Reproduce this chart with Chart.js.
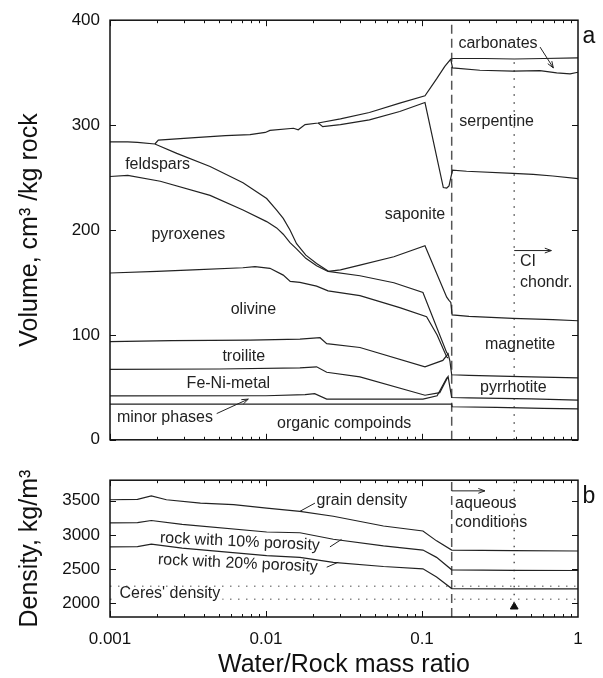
<!DOCTYPE html>
<html>
<head>
<meta charset="utf-8">
<script src="https://cdn.jsdelivr.net/npm/chart.js@4.4.0/dist/chart.umd.min.js"></script>
<style>
  html, body { margin: 0; padding: 0; background: #fff; }
  #wrap { position: relative; width: 603px; height: 678px; }
  #volume { position: absolute; left: 0; top: 0; }
  #density { position: absolute; left: 0; top: 460px; }
</style>
</head>
<body>
<div id="wrap">
  <canvas id="volume" width="603" height="460"></canvas>
  <canvas id="density" width="603" height="218"></canvas>
</div>
<script>
// ---- panel a: volume boundaries, cm3 per kg rock vs water/rock mass ratio ----
const totalX = [0.00194, 0.00204, 0.0035, 0.0055, 0.0079, 0.0099, 0.0106, 0.0150, 0.0161, 0.0178, 0.0216, 0.030, 0.046, 0.072, 0.1045, 0.124, 0.140, 0.153, 0.158, 0.25, 0.39, 0.6, 1.0];
const totalY = [282, 285.7, 288, 290, 291, 293, 295, 297, 295.5, 300.5, 302, 306, 312, 321, 328, 344, 356, 363, 363.5, 363.5, 363, 363.5, 364];

const carbonateX = [0.153, 0.157, 0.235, 0.383, 0.57, 0.73, 0.89, 1.0];
const carbonateY = [362.5, 354.5, 352.3, 351.4, 352, 349.7, 348.8, 350.4];

const splitX = [0.0216, 0.0231, 0.030, 0.046, 0.072, 0.1045, 0.137, 0.144, 0.149, 0.153, 0.157, 0.193, 0.383, 0.516, 0.69, 1.0];
const splitY = [302, 298.5, 300.5, 305, 313, 321.5, 240.5, 240, 242, 250, 257, 256, 254, 253, 251.5, 249];

const feldsparX = [0.001, 0.0013, 0.0015, 0.00194, 0.00268, 0.00438, 0.00712, 0.0101, 0.0117, 0.0129, 0.01425, 0.0157, 0.018, 0.0211, 0.025];
const feldsparY = [284, 284, 283.6, 282, 273, 260.5, 245, 230, 219, 211, 200, 187, 176, 168, 161];

const pyroxeneX = [0.001, 0.0013, 0.0021, 0.00438, 0.00712, 0.0101, 0.0117, 0.0129, 0.01425, 0.0157, 0.018, 0.0211, 0.025];
const pyroxeneY = [251, 252, 246.5, 233, 219, 208, 202, 196, 188, 182, 173, 166, 160.5];

const saponiteX = [0.025, 0.030, 0.040, 0.066, 0.1045, 0.144, 0.149, 0.153, 0.156, 0.20, 0.383, 0.69, 1.0];
const saponiteY = [160.5, 162, 166.5, 174.5, 185, 136, 133, 131, 119, 117.6, 115.8, 114.5, 113.5];

const innerX = [0.025, 0.040, 0.066, 0.1014, 0.144, 0.147];
const innerY = [160.5, 156.4, 149.7, 140.4, 83, 82];

const olivineX = [0.001, 0.002, 0.0034, 0.0071, 0.0085, 0.0106, 0.0129, 0.0143, 0.0165, 0.0211, 0.025, 0.040, 0.072, 0.107, 0.125, 0.144, 0.147];
const olivineY = [159, 160.5, 162, 164, 165, 163.5, 157, 151, 150, 146.5, 142, 137.4, 126, 117.3, 100, 79, 78];

const troiliteX = [0.001, 0.0025, 0.0079, 0.0165, 0.0222, 0.0245, 0.040, 0.1045, 0.136, 0.147, 0.151, 0.155, 0.20, 0.50, 1.0];
const troiliteY = [93.6, 94.5, 95, 96, 97.3, 91.7, 88, 69.6, 75.7, 82, 75, 62, 61.5, 60, 59];

const metalX = [0.001, 0.005, 0.0165, 0.0211, 0.0245, 0.040, 0.1045, 0.130, 0.147, 0.151, 0.155, 0.20, 0.50, 1.0];
const metalY = [67.1, 67.5, 68.5, 69.6, 64.4, 60, 42.5, 45, 60.3, 50, 40.3, 40, 39, 37.9];

const minorX = [0.001, 0.010, 0.0178, 0.0205, 0.0245, 0.1014, 0.125, 0.144, 0.147];
const minorY = [41.9, 42, 43, 44, 38.8, 38.8, 41.9, 58.8, 60];

const organicX = [0.001, 0.155, 0.156, 0.30, 0.60, 1.0];
const organicY = [34, 34, 31.5, 31, 30, 29.5];

// ---- panel b: densities, kg/m3 ----
const grainX = [0.001, 0.0015, 0.00184, 0.0023, 0.0038, 0.0062, 0.0101, 0.0165, 0.027, 0.0566, 0.1014, 0.124, 0.155, 0.383, 1.0];
const grainY = [3514, 3520, 3570, 3514, 3465, 3442, 3393, 3345, 3273, 3130, 3058, 2913, 2779, 2770, 2765];

const porousX = [0.001, 0.0015, 0.00184, 0.0029, 0.0101, 0.0165, 0.027, 0.0566, 0.1014, 0.124, 0.155, 0.383, 1.0];
const porous10Y = [3177, 3180, 3211, 3154, 3043, 3032, 2937, 2841, 2779, 2672, 2490, 2483, 2480];
const porous20Y = [2826, 2830, 2865, 2808, 2697, 2672, 2600, 2538, 2505, 2384, 2216, 2212, 2210];

const ceresDensity = [2060, 2250];
const aqueousStart = 0.155;   // dashed line
const ciChondrite = 0.39;     // dotted line
const ciMarkerY = 1950;

const volumeTicks = [0, 100, 200, 300, 400];
const densityTicks = [2000, 2500, 3000, 3500];
const ratioTicks = [0.001, 0.01, 0.1, 1];

const FONT = '"Liberation Sans", Arial, Helvetica, sans-serif';
Chart.defaults.font.family = FONT;
Chart.defaults.color = '#111';

function curve(xs, ys, extra) {
  return Object.assign({
    data: xs.map((x, i) => ({ x: x, y: ys[i] })),
    showLine: true,
    borderColor: '#222',
    borderWidth: 1.2,
    pointRadius: 0,
    tension: 0,
    fill: false
  }, extra || {});
}

// box frame with inward ticks on all four sides
const frameTicks = {
  id: 'frameTicks',
  afterDatasetsDraw(chart, args, opts) {
    const { ctx, chartArea: a, scales: { x, y } } = chart;
    ctx.save();
    ctx.strokeStyle = '#111';
    ctx.lineWidth = 1.5;
    ctx.strokeRect(a.left, a.top, a.right - a.left, a.bottom - a.top);
    ctx.lineWidth = 1;
    ctx.beginPath();
    for (let d = -3; d < 0; d++) {
      for (let m = 1; m <= 9; m++) {
        const px = Math.round(x.getPixelForValue(m * Math.pow(10, d))) + 0.5;
        const len = m === 1 ? 6 : 3;
        ctx.moveTo(px, a.bottom); ctx.lineTo(px, a.bottom - len);
        ctx.moveTo(px, a.top); ctx.lineTo(px, a.top + len);
      }
    }
    opts.yTicks.forEach(v => {
      const py = Math.round(y.getPixelForValue(v)) + 0.5;
      ctx.moveTo(a.left, py); ctx.lineTo(a.left + 6, py);
      ctx.moveTo(a.right, py); ctx.lineTo(a.right - 6, py);
    });
    ctx.stroke();
    ctx.restore();
  }
};

// text labels, leader lines and arrows placed in data units
const notes = {
  id: 'notes',
  afterDraw(chart, args, opts) {
    const { ctx, chartArea: a, scales: { x, y } } = chart;
    ctx.save();
    ctx.strokeStyle = '#222';
    ctx.fillStyle = '#222';
    ctx.lineWidth = 1;
    (opts.arrows || []).forEach(ar => {
      const x0 = x.getPixelForValue(ar.from[0]), y0 = y.getPixelForValue(ar.from[1]);
      const x1 = x.getPixelForValue(ar.to[0]), y1 = y.getPixelForValue(ar.to[1]);
      ctx.beginPath();
      ctx.moveTo(x0, y0); ctx.lineTo(x1, y1);
      if (ar.head) {
        const ang = Math.atan2(y1 - y0, x1 - x0), h = 7;
        ctx.moveTo(x1 - h * Math.cos(ang - 0.35), y1 - h * Math.sin(ang - 0.35));
        ctx.lineTo(x1, y1);
        ctx.lineTo(x1 - h * Math.cos(ang + 0.35), y1 - h * Math.sin(ang + 0.35));
      }
      ctx.stroke();
    });
    ctx.font = '16px ' + FONT;
    (opts.labels || []).forEach(l => {
      const px = x.getPixelForValue(l.x), py = y.getPixelForValue(l.y);
      ctx.save();
      ctx.translate(px, py);
      if (l.rot) ctx.rotate(l.rot * Math.PI / 180);
      ctx.textAlign = l.align || 'center';
      ctx.textBaseline = 'middle';
      if (l.bg) {
        const w = ctx.measureText(l.text).width;
        ctx.fillStyle = '#fff';
        ctx.fillRect(-w / 2 - 2, -4.5, w + 4, 13);
        ctx.fillStyle = '#222';
      }
      ctx.fillText(l.text, 0, 0);
      ctx.restore();
    });
    if (opts.panel) {
      ctx.font = '23px ' + FONT;
      ctx.textAlign = 'center';
      ctx.textBaseline = 'middle';
      ctx.fillStyle = '#111';
      ctx.fillText(opts.panel, a.right + 11, a.top + 16);
    }
    ctx.restore();
  }
};

const logX = (display) => ({
  type: 'logarithmic',
  min: 0.001,
  max: 1,
  display: display,
  grid: { display: false, drawTicks: false, tickLength: 0 },
  border: { display: false },
  afterBuildTicks: s => { s.ticks = ratioTicks.map(v => ({ value: v })); },
  ticks: { autoSkip: false, maxRotation: 0, padding: 12, font: { size: 17 }, callback: v => String(v) }
});

const volumeSets = [
  curve(totalX, totalY),
  curve(carbonateX, carbonateY),
  curve(splitX, splitY),
  curve(feldsparX, feldsparY),
  curve(pyroxeneX, pyroxeneY),
  curve(saponiteX, saponiteY),
  curve(innerX, innerY),
  curve(olivineX, olivineY),
  curve(troiliteX, troiliteY),
  curve(metalX, metalY),
  curve(minorX, minorY),
  curve(organicX, organicY),
  curve([aqueousStart, aqueousStart], [0, 400], { borderDash: [9, 5], borderColor: '#555', borderWidth: 1.5 }),
  curve([ciChondrite, ciChondrite], [0, 360], { borderDash: [1.5, 6.5], borderColor: '#555', borderWidth: 1.5 })
];

new Chart(document.getElementById('volume'), {
  type: 'scatter',
  data: { datasets: volumeSets },
  options: {
    responsive: false,
    animation: false,
    layout: { padding: { top: 19, right: 25, bottom: 8, left: 0 } },
    plugins: {
      legend: { display: false },
      tooltip: { enabled: false },
      frameTicks: { yTicks: volumeTicks },
      notes: {
        panel: 'a',
        labels: [
          { text: 'feldspars', x: 0.00202, y: 262 },
          { text: 'pyroxenes', x: 0.00318, y: 196 },
          { text: 'olivine', x: 0.0083, y: 124.5 },
          { text: 'troilite', x: 0.0072, y: 79.5 },
          { text: 'Fe-Ni-metal', x: 0.00574, y: 53.5 },
          { text: 'minor phases', x: 0.00225, y: 21 },
          { text: 'organic compoinds', x: 0.0317, y: 15.7 },
          { text: 'saponite', x: 0.0902, y: 215 },
          { text: 'serpentine', x: 0.301, y: 303.6 },
          { text: 'carbonates', x: 0.307, y: 377.5 },
          { text: 'magnetite', x: 0.425, y: 90.5 },
          { text: 'pyrrhotite', x: 0.385, y: 49.6 },
          { text: 'CI', x: 0.425, y: 169.7, align: 'left' },
          { text: 'chondr.', x: 0.425, y: 150.3, align: 'left' }
        ],
        arrows: [
          { from: [0.00483, 25], to: [0.0077, 38.8], head: true },
          { from: [0.571, 374.4], to: [0.695, 354.5], head: true },
          { from: [0.39, 180.4], to: [0.675, 180.4], head: true }
        ]
      }
    },
    scales: {
      x: logX(false),
      y: {
        min: 0,
        max: 400,
        grid: { display: false, drawTicks: false, tickLength: 0 },
        border: { display: false },
        afterBuildTicks: s => { s.ticks = volumeTicks.map(v => ({ value: v })); },
        afterFit: s => { s.width = 110; },
        ticks: { padding: 10, font: { size: 17 }, callback: v => String(v) },
        title: { display: true, text: 'Volume, cm\u00B3 /kg rock', font: { size: 25, lineHeight: 1 }, padding: { top: 18, bottom: 0 } }
      }
    }
  },
  plugins: [frameTicks, notes]
});

const densitySets = [
  curve(grainX, grainY),
  curve(porousX, porous10Y),
  curve(porousX, porous20Y),
  curve([0.001, 1], [ceresDensity[0], ceresDensity[0]], { borderDash: [1.5, 6.5], borderColor: '#888', borderWidth: 1.5 }),
  curve([0.001, 1], [ceresDensity[1], ceresDensity[1]], { borderDash: [1.5, 6.5], borderColor: '#888', borderWidth: 1.5 }),
  curve([aqueousStart, aqueousStart], [1800, 3800], { borderDash: [9, 5], borderColor: '#555', borderWidth: 1.5 }),
  curve([ciChondrite, ciChondrite], [2000, 3800], { borderDash: [1.5, 6.5], borderColor: '#555', borderWidth: 1.5 }),
  { data: [{ x: ciChondrite, y: ciMarkerY }], showLine: false, pointStyle: 'triangle', pointRadius: 4.5, backgroundColor: '#111', borderColor: '#111', borderWidth: 1 }
];

new Chart(document.getElementById('density'), {
  type: 'scatter',
  data: { datasets: densitySets },
  options: {
    responsive: false,
    animation: false,
    layout: { padding: { top: 18, right: 25, bottom: 0, left: 0 } },
    plugins: {
      legend: { display: false },
      tooltip: { enabled: false },
      frameTicks: { yTicks: densityTicks },
      notes: {
        panel: 'b',
        labels: [
          { text: 'grain density', x: 0.0412, y: 3500 },
          { text: 'rock with 10% porosity', x: 0.0068, y: 2898, rot: 2.7 },
          { text: 'rock with 20% porosity', x: 0.0066, y: 2581, rot: 2.7 },
          { text: "Ceres' density", x: 0.00242, y: 2144, bg: true },
          { text: 'aqueous', x: 0.163, y: 3451, align: 'left' },
          { text: 'conditions', x: 0.163, y: 3177, align: 'left' }
        ],
        arrows: [
          { from: [0.0165, 3345], to: [0.0206, 3465] },
          { from: [0.0257, 2825], to: [0.0305, 2935] },
          { from: [0.0245, 2528], to: [0.029, 2600] },
          { from: [aqueousStart, 3644], to: [0.253, 3644], head: true }
        ]
      }
    },
    scales: {
      x: Object.assign(logX(true), {
        afterFit: s => { s.height = 61; },
        title: { display: true, text: 'Water/Rock mass ratio', font: { size: 25, lineHeight: 1 }, padding: { top: 0, bottom: 0 } }
      }),
      y: {
        min: 1800,
        max: 3800,
        grid: { display: false, drawTicks: false, tickLength: 0 },
        border: { display: false },
        afterBuildTicks: s => { s.ticks = densityTicks.map(v => ({ value: v })); },
        afterFit: s => { s.width = 110; },
        ticks: { padding: 10, font: { size: 17 }, callback: v => String(v) },
        title: { display: true, text: 'Density, kg/m\u00B3', font: { size: 25, lineHeight: 1 }, padding: { top: 18, bottom: 0 } }
      }
    }
  },
  plugins: [frameTicks, notes]
});
</script>
</body>
</html>
